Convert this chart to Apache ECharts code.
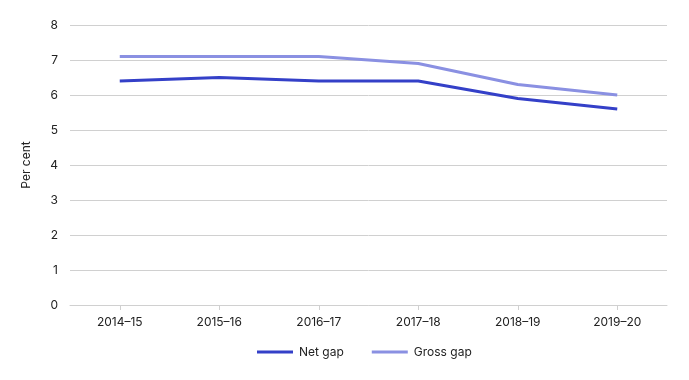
<!DOCTYPE html>
<html><head><meta charset="utf-8">
<script src="https://cdn.jsdelivr.net/npm/echarts@6/dist/echarts.min.js"></script>
<style>html,body{margin:0;padding:0;background:#fff}#c{width:689px;height:380px}</style>
</head><body><div id="c"></div>
<script>
const categories = ['2014–15','2015–16','2016–17','2017–18','2018–19','2019–20'];
const netGap = [6.4, 6.5, 6.4, 6.4, 5.9, 5.6];
const grossGap = [7.1, 7.1, 7.1, 6.9, 6.3, 6.0];
const seriesNames = ['Net gap', 'Gross gap'];
const yAxisName = 'Per cent';

const font = 'Inter, "Noto Sans", sans-serif';
const chart = echarts.init(document.getElementById('c'), null, {renderer: 'canvas'});
chart.setOption({
  animation: false,
  textStyle: {fontFamily: font},
  grid: {left: 70, right: 22, top: 25, bottom: 75},
  legend: {
    bottom: 17, left: 252, itemWidth: 36, itemHeight: 3, itemGap: 28,
    icon: 'rect',
    textStyle: {fontFamily: font, fontSize: 12, color: '#222', padding: [0, 0, 0, 1]},
    data: seriesNames
  },
  xAxis: {
    type: 'category', data: categories, boundaryGap: true,
    axisLine: {lineStyle: {color: '#d0d0d0'}},
    axisTick: {show: true, alignWithLabel: true, length: 5, lineStyle: {color: '#d0d0d0'}},
    axisLabel: {color: '#222', fontSize: 12, fontFamily: font, margin: 11}
  },
  yAxis: {
    type: 'value', min: 0, max: 8, interval: 1,
    name: yAxisName, nameLocation: 'middle', nameGap: 38,
    nameTextStyle: {color: '#222', fontSize: 12, fontFamily: font},
    axisLine: {show: false}, axisTick: {show: false},
    axisLabel: {color: '#222', fontSize: 12, fontFamily: font, margin: 12},
    splitLine: {lineStyle: {color: '#d0d0d0'}}
  },
  series: [
    {name: seriesNames[0], type: 'line', data: netGap, symbol: 'none',
     lineStyle: {width: 3, color: '#3440c8'}, itemStyle: {color: '#3440c8'}},
    {name: seriesNames[1], type: 'line', data: grossGap, symbol: 'none',
     lineStyle: {width: 3, color: '#8a90e2'}, itemStyle: {color: '#8a90e2'}}
  ]
});
</script></body></html>
